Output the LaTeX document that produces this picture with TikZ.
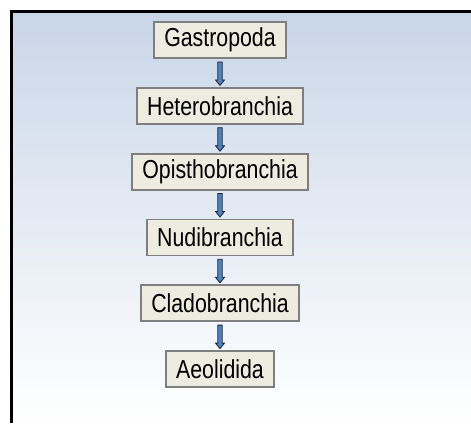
\documentclass[tikz,border=0pt]{standalone}
\usepackage{fontspec}
\setmainfont{Liberation Sans}[FakeStretch=0.82]
\usetikzlibrary{calc, positioning}
\definecolor{BgTop} {HTML}{C9D6E8}
\definecolor{BgBot} {HTML}{FFFFFF}
\definecolor{BoxF}  {HTML}{EEECE1}
\definecolor{BoxD}  {HTML}{7F7F7F}
\definecolor{ArrF}  {HTML}{4F81BD}
\definecolor{ArrD}  {HTML}{1C2333}
\tikzset{
  taxon/.style={
    rectangle, draw=BoxD, fill=BoxF, text=black,
    font=\fontsize{26}{29}\selectfont,
    inner xsep=10.5pt, inner ysep=0pt, minimum height=36pt,
    line width=1.8pt,
  },
  blkarr/.style={
    draw=ArrD, fill=ArrF, line width=0.8pt,
    to path={let \p1=(\tikztostart), \p2=(\tikztotarget) in
      (\x1-2.2pt,\y1-3pt) -- (\x1+2.2pt,\y1-3pt) -- (\x1+2.2pt,\y2+7pt)
      -- (\x1+4.5pt,\y2+7pt) -- (\x1,\y2+1.5pt) -- (\x1-4.5pt,\y2+7pt)
      -- (\x1-2.2pt,\y2+7pt) -- cycle},
  },
}
\begin{document}
\begin{tikzpicture}[x=1pt,y=-1pt]
    \useasboundingbox (0,0) rectangle (471,423);
    % backdrop and frame
    \shade[top color=BgTop, bottom color=BgBot] (11.5,11.5) rectangle (471,423);
    \draw[line width=2.3pt] (471,11.5) -- (11.5,11.5) -- (11.5,423);

    \node[taxon] (gas) at (220,40)    {Gastropoda};
    \node[taxon, below=28pt of gas] (het) {Heterobranchia};
    \node[taxon, below=28pt of het] (opi) {Opisthobranchia};
    \node[taxon, below=28pt of opi] (nud) {Nudibranchia};
    \node[taxon, below=28pt of nud] (cla) {Cladobranchia};
    \node[taxon, below=28pt of cla] (aeo) {Aeolidida};

    \foreach \a/\b in {gas/het, het/opi, opi/nud, nud/cla, cla/aeo}
      \draw[blkarr] (\a.south) to (\b.north);
\end{tikzpicture}
\end{document}
